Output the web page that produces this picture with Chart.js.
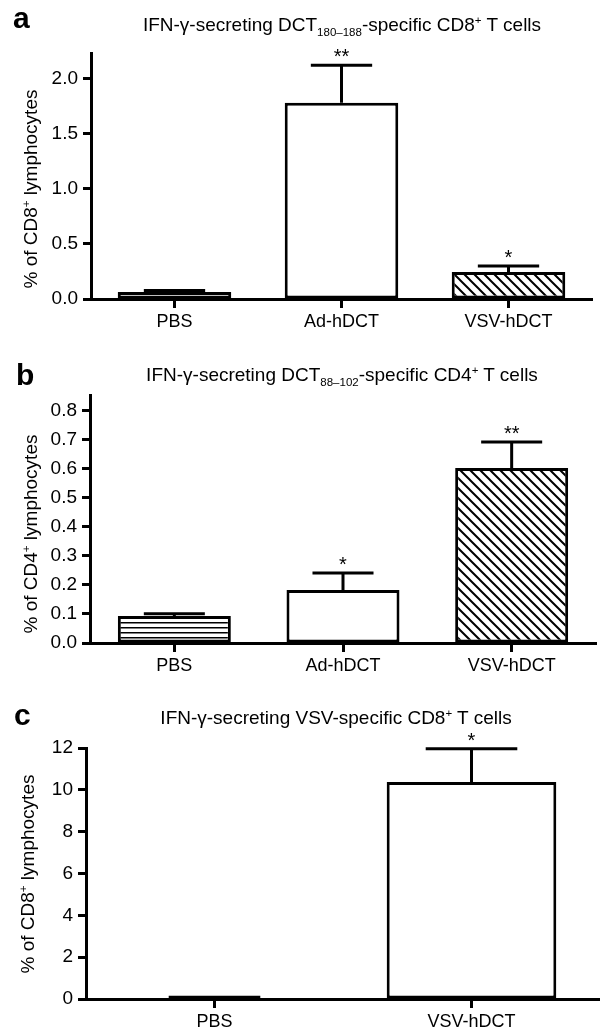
<!DOCTYPE html>
<html>
<head>
<meta charset="utf-8">
<script src="https://cdn.jsdelivr.net/npm/chart.js@4.4.0/dist/chart.umd.min.js"></script>
<style>
  body { margin: 0; background: #fff; }
  #wrap { position: relative; width: 600px; height: 1036px; font-family: "Liberation Sans", Arial, sans-serif; color: #000; }
  canvas { position: absolute; left: 0; }
  .panel { position: absolute; font-weight: bold; font-size: 30px; line-height: 1; }
  .title { position: absolute; font-size: 19px; white-space: nowrap; transform: translateX(-50%); line-height: 20px; }
  .ytitle { position: absolute; font-size: 19px; white-space: nowrap; line-height: 20px; transform: translate(-50%, -50%) rotate(-90deg); }
  sub, sup { font-size: 11.5px; line-height: 0; }
</style>
</head>
<body>
<div id="wrap">
  <canvas id="chartA" width="600" height="340" style="top:0px"></canvas>
  <canvas id="chartB" width="600" height="340" style="top:340px"></canvas>
  <canvas id="chartC" width="600" height="356" style="top:680px"></canvas>
  <div class="panel" style="left:13px; top:3px">a</div>
  <div class="panel" style="left:16px; top:360px">b</div>
  <div class="panel" style="left:14px; top:700px">c</div>
  <div class="title" style="left:342px; top:15px">IFN-&gamma;-secreting DCT<sub>180&ndash;188</sub>-specific CD8<sup>+</sup> T cells</div>
  <div class="title" style="left:342px; top:365px">IFN-&gamma;-secreting DCT<sub>88&ndash;102</sub>-specific CD4<sup>+</sup> T cells</div>
  <div class="title" style="left:336px; top:708px">IFN-&gamma;-secreting VSV-specific CD8<sup>+</sup> T cells</div>
  <div class="ytitle" style="left:31px; top:189px">% of CD8<sup>+</sup> lymphocytes</div>
  <div class="ytitle" style="left:31px; top:534px">% of CD4<sup>+</sup> lymphocytes</div>
  <div class="ytitle" style="left:28px; top:874px">% of CD8<sup>+</sup> lymphocytes</div>
</div>
<script>
// panel a: DCT180-188 specific CD8+ cells
var catsA = ['PBS', 'Ad-hDCT', 'VSV-hDCT'];
var meanA = [0.063, 1.78, 0.245];
var semA = [0.015, 0.34, 0.055];
var starsA = ['', '**', '*'];
var fillA = ['white', 'white', 'diag'];
var ticksA = [0, 0.5, 1.0, 1.5, 2.0];

// panel b: DCT88-102 specific CD4+ cells
var catsB = ['PBS', 'Ad-hDCT', 'VSV-hDCT'];
var meanB = [0.093, 0.183, 0.603];
var semB = [0.008, 0.058, 0.09];
var starsB = ['', '*', '**'];
var fillB = ['hlines', 'white', 'diag'];
var ticksB = [0, 0.1, 0.2, 0.3, 0.4, 0.5, 0.6, 0.7, 0.8];

// panel c: VSV specific CD8+ cells
var catsC = ['PBS', 'VSV-hDCT'];
var meanC = [0.03, 10.38];
var semC = [0.05, 1.58];
var starsC = ['', '*'];
var fillC = ['white', 'white'];
var ticksC = [0, 2, 4, 6, 8, 10, 12];

var FONT = '"Liberation Sans", Arial, sans-serif';

// hatch fills
var makePattern = function(kind) {
  var c = document.createElement('canvas');
  var g = c.getContext('2d');
  if (kind === 'diag') {
    c.width = 10; c.height = 10;
    g.fillStyle = '#fff'; g.fillRect(0, 0, 10, 10);
    g.strokeStyle = '#000'; g.lineWidth = 2;
    g.beginPath();
    g.moveTo(-5, -5); g.lineTo(15, 15);
    g.moveTo(-5, 5); g.lineTo(5, 15);
    g.moveTo(5, -5); g.lineTo(15, 5);
    g.stroke();
  } else {
    c.width = 5; c.height = 5;
    g.fillStyle = '#fff'; g.fillRect(0, 0, 5, 5);
    g.fillStyle = '#000'; g.fillRect(0, 2, 5, 1.5);
  }
  return g.createPattern(c, 'repeat');
};
var fills = { white: '#fff', diag: makePattern('diag'), hlines: makePattern('hlines') };

// error bars (upper only) and significance stars
var errorBars = {
  id: 'errorBars',
  afterDatasetsDraw: function(chart) {
    var ctx = chart.ctx;
    var yScale = chart.scales.y;
    var meta = chart.getDatasetMeta(0);
    var ds = chart.data.datasets[0];
    ctx.save();
    ctx.strokeStyle = '#000';
    ctx.lineWidth = 3;
    meta.data.forEach(function(bar, i) {
      var yb = yScale.getPixelForValue(ds.data[i]);
      var yt = yScale.getPixelForValue(ds.data[i] + ds.sem[i]);
      var half = bar.width * 0.27;
      ctx.beginPath();
      ctx.moveTo(bar.x, yb); ctx.lineTo(bar.x, yt);
      ctx.moveTo(bar.x - half, yt); ctx.lineTo(bar.x + half, yt);
      ctx.stroke();
      if (ds.stars[i]) {
        ctx.fillStyle = '#000';
        ctx.font = '20px ' + FONT;
        ctx.textAlign = 'center';
        ctx.textBaseline = 'alphabetic';
        ctx.fillText(ds.stars[i], bar.x, yt - 2);
      }
    });
    ctx.restore();
  }
};

var makeChart = function(id, cats, means, sems, stars, fillKeys, ticks, o) {
  var ctx = document.getElementById(id).getContext('2d');
  return new Chart(ctx, {
    type: 'bar',
    data: {
      labels: cats,
      datasets: [{
        data: means,
        sem: sems,
        stars: stars,
        backgroundColor: fillKeys.map(function(k) { return fills[k]; }),
        borderColor: '#000',
        borderWidth: 3,
        borderSkipped: false,
        barPercentage: o.barPct,
        categoryPercentage: 1
      }]
    },
    options: {
      responsive: false,
      animation: false,
      devicePixelRatio: 1,
      layout: { padding: { top: o.top, right: o.right, left: 0, bottom: 0 } },
      plugins: { legend: { display: false }, tooltip: { enabled: false } },
      scales: {
        x: {
          offset: true,
          afterFit: function(s) { s.height = o.bottom; },
          border: { color: '#000', width: 3 },
          grid: { offset: false, drawOnChartArea: false, tickLength: 9, tickWidth: 3, tickColor: '#000' },
          ticks: { color: '#000', font: { size: 18, family: FONT }, padding: 3 }
        },
        y: {
          min: 0,
          max: o.max,
          afterBuildTicks: function(s) { s.ticks = ticks.map(function(v) { return { value: v }; }); },
          afterFit: function(s) { s.width = o.left; },
          border: { color: '#000', width: 3 },
          grid: { drawOnChartArea: false, tickLength: 8, tickWidth: 3, tickColor: '#000' },
          ticks: { color: '#000', font: { size: 19, family: FONT }, padding: 5, callback: o.fmt }
        }
      }
    },
    plugins: [errorBars]
  });
};

makeChart('chartA', catsA, meanA, semA, starsA, fillA, ticksA, {
  max: 2.23, top: 53, bottom: 41, left: 91, right: 8, barPct: 0.68,
  fmt: function(v) { return v.toFixed(1); }
});
makeChart('chartB', catsB, meanB, semB, starsB, fillB, ticksB, {
  max: 0.855, top: 55, bottom: 37, left: 90, right: 4, barPct: 0.67,
  fmt: function(v) { return v.toFixed(1); }
});
makeChart('chartC', catsC, meanC, semC, starsC, fillC, ticksC, {
  max: 12, top: 68, bottom: 37, left: 86, right: 0, barPct: 0.66,
  fmt: function(v) { return String(v); }
});
</script>
</body>
</html>
